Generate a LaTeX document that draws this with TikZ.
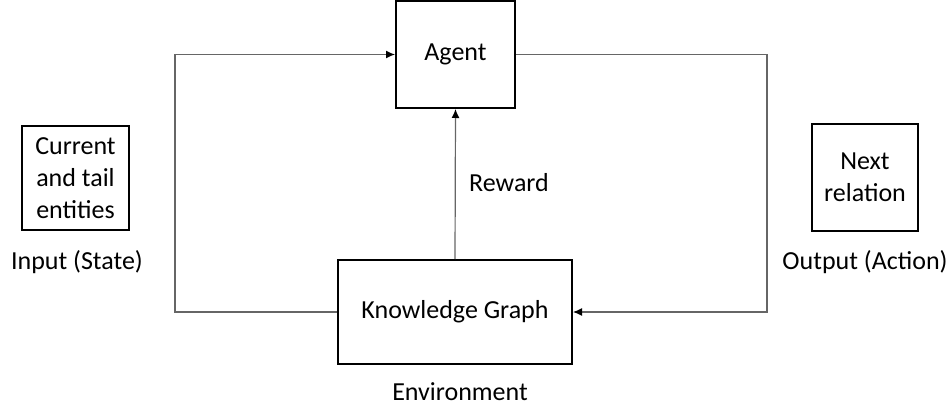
\documentclass[tikz,border=0pt]{standalone}
\usepackage{fontspec}
\setmainfont{Carlito}
\usepackage{tikz}
\usetikzlibrary{arrows.meta}

\tikzset{
  blockbox/.style={draw, line width=1pt, inner sep=0pt, align=center,
    font=\fontsize{13pt}{16pt}\selectfont},
  plaintext/.style={inner sep=0pt, font=\fontsize{13pt}{16pt}\selectfont},
  link/.style={draw=black!60, line width=0.6pt},
  linkarrow/.style={link, -{Latex[length=4.5pt,width=4pt,black]}}
}

\begin{document}
\begin{tikzpicture}[x=0.5pt,y=-0.5pt]
\useasboundingbox (0,0) rectangle (951,406);

\node[blockbox, minimum width=59.5pt, minimum height=53.5pt] (agent) at (455.5,54.5) {Agent};
\node[blockbox, minimum width=117pt, minimum height=52pt] (kg) at (455,312) {Knowledge Graph};
\node[blockbox, minimum width=53.5pt, minimum height=52pt] (state) at (75.5,178) {Current\\and tail\\entities};
\node[blockbox, minimum width=53pt, minimum height=53.5pt] (action) at (865,177.5) {Next\\relation};

\node[plaintext] (input) at (77,262) {Input (State)};
\node[plaintext] (output) at (865,262) {Output (Action)};
\node[plaintext] (reward) at (509,183) {Reward};
\node[plaintext] (env) at (460,392) {Environment};

\coordinate (lturn) at (175,312);
\coordinate (rturn) at (767,312);

\draw[linkarrow] (kg.west) -- (lturn) |- (agent.west);
\draw[linkarrow] (agent.east) -| (rturn) -- (kg.east);
\draw[linkarrow] (kg.north) -- (agent.south);
\end{tikzpicture}
\end{document}
